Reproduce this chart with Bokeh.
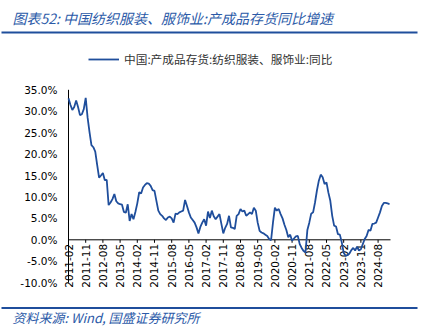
import math
from bokeh.plotting import figure
from bokeh.models import Range1d, Label, BoxAnnotation, Legend, LegendItem, ColumnDataSource
from bokeh.core.properties import value
from bokeh.embed import file_html
from bokeh.resources import INLINE

# ---------------- data ----------------
start_year, start_month = 2011, 2
values = [
    33.0, 31.5, 30.3, 31.0, 32.5, 31.0, 29.1, 29.3, 30.5, 33.1,
    28.5, 25.1, 22.1, 21.6, 20.6, 17.5, 14.5, 15.0, 15.6, 13.9,
    14.0, 8.1, 8.7, 9.5, 10.7, 9.0, 8.5, 8.3, 8.2, 6.5,
    6.3, 8.3, 4.4, 6.0, 4.8, 6.5, 8.5, 11.1, 10.8, 12.2,
    12.8, 13.2, 13.1, 12.6, 11.6, 11.4, 9.1, 6.8, 6.0, 5.6,
    5.0, 4.6, 5.2, 5.4, 5.0, 4.0, 6.1, 6.0, 6.4, 6.6,
    6.8, 9.3, 7.9, 6.4, 5.2, 4.6, 4.0, 2.9, 1.5, 3.0,
    4.0, 4.8, 3.3, 6.6, 5.1, 6.8, 5.5, 4.8, 5.4, 6.0,
    3.7, 1.5, 2.8, 3.7, 5.6, 2.9, 2.8, 2.5, 5.6, 6.0,
    7.2, 6.6, 6.8, 5.6, 6.0, 6.4, 6.0, 7.5, 6.8, 4.0,
    2.1, 1.7, 1.5, 1.2, 0.9, 0.2, -0.1, 4.0, 7.5, 6.8,
    7.2, 6.0, 5.0, 3.5, 2.3, 0.6, 1.2, -0.2, 0.3, 0.8,
    0.9, -1.0, -1.9, -2.6, -3.0, 2.3, 4.0, 6.1, 6.4, 8.7,
    11.5, 13.8, 15.2, 14.6, 13.0, 13.4, 11.0, 9.1, 5.6, 3.3,
    3.1, 1.3, 1.2, -0.6, -3.0, -3.7, -3.6, -3.2, -2.4, -1.9,
    -2.5, -1.6, -2.5, -2.2, -1.0, 0.2, 0.9, 2.3, 2.1, 3.7,
    3.8, 4.0, 5.2, 6.4, 7.9, 8.6, 8.6, 8.5, 8.3,
]
months = []
for i in range(len(values)):
    t = (start_month - 1) + i
    months.append(f"{start_year + t // 12}-{t % 12 + 1:02d}")

tick_step = 9
tick_idx = list(range(0, len(values), tick_step))
tick_labels = [months[i] for i in tick_idx]
y_ticks = [-10, -5, 0, 5, 10, 15, 20, 25, 30, 35]
y_tick_labels = [f"{v:.1f}%" for v in y_ticks]

title_text = "图表52:  中国纺织服装、服饰业:产成品存货同比增速"
series_name = "中国:产成品存货:纺织服装、服饰业:同比"
source_text = "资料来源:  Wind,  国盛证券研究所"

# ---------------- styles ----------------
W, H = 421, 333
AXIS_X = 68          # pixel of the y axis line
BLUE = "#1f4e9c"
TITLE_BLUE = "#2b5aa8"
px_per_month = 1.911
px_per_pct = 4.2857
zero_px = 239.3      # pixel (from top) of the 0% line
FONT = value("DejaVu Sans")

x_start = -AXIS_X / px_per_month
x_end = (W - AXIS_X) / px_per_month
y_end = zero_px / px_per_pct
y_start = -(H - zero_px) / px_per_pct

p = figure(width=W, height=H, output_backend="svg", toolbar_location=None,
           x_axis_type=None, y_axis_type=None,
           x_range=Range1d(x_start, x_end), y_range=Range1d(y_start, y_end),
           min_border=0)
p.outline_line_color = None
p.grid.visible = False
p.background_fill_color = "white"
p.border_fill_color = "white"

# y axis (line + labels)
p.segment(x0=[0], y0=[min(y_ticks)], x1=[0], y1=[max(y_ticks)], line_color="#000000", line_width=1)
p.text(x=[0] * len(y_ticks), y=y_ticks, text=y_tick_labels, x_offset=-11,
       text_align="right", text_baseline="middle",
       text_font=FONT, text_font_size="10.5px", text_color="#000000")

# x axis at zero
x_last = len(values) - 1
p.segment(x0=[0], y0=[0], x1=[x_last + 0.5], y1=[0], line_color="#000000", line_width=1)
tick_len = 3 / px_per_pct
p.segment(x0=tick_idx, y0=[0] * len(tick_idx), x1=tick_idx, y1=[-tick_len] * len(tick_idx),
          line_color="#000000", line_width=1)
p.text(x=tick_idx, y=[0] * len(tick_idx), text=tick_labels, angle=math.pi / 2,
       text_align="right", text_baseline="middle", y_offset=4,
       text_font=FONT, text_font_size="10.5px", text_color="#000000")

# series
src = ColumnDataSource(dict(x=list(range(len(values))), y=values))
r = p.line("x", "y", source=src, line_color=BLUE, line_width=1.8)

legend = Legend(items=[LegendItem(label=series_name, renderers=[r])], location=(AXIS_X + 20, 266),
                margin=0, padding=0, spacing=0, border_line_color=None,
                background_fill_alpha=0, glyph_width=31, glyph_height=12, label_standoff=5,
                label_text_font="Noto Sans CJK SC", label_text_font_size="11.7px",
                label_text_color="#333333")
p.add_layout(legend)

# title, separators, footer
p.add_layout(Label(x=12, y=H - 17, x_units="screen", y_units="screen", text=title_text,
                   text_font="Noto Sans CJK SC", text_font_size="14px", text_font_style="italic",
                   text_color=TITLE_BLUE, text_baseline="middle"))
for y_top in (31, 306.5):
    p.add_layout(BoxAnnotation(left=1, right=417, top=H - y_top, bottom=H - y_top - 2,
                               left_units="screen", right_units="screen", top_units="screen",
                               bottom_units="screen", fill_color=BLUE, fill_alpha=1,
                               line_color=None))
p.add_layout(Label(x=12, y=H - 317, x_units="screen", y_units="screen", text=source_text,
                   text_font="Noto Sans CJK SC", text_font_size="13px", text_font_style="italic",
                   text_color=TITLE_BLUE, text_baseline="middle"))

open("out.html", "w").write(file_html(p, INLINE))
